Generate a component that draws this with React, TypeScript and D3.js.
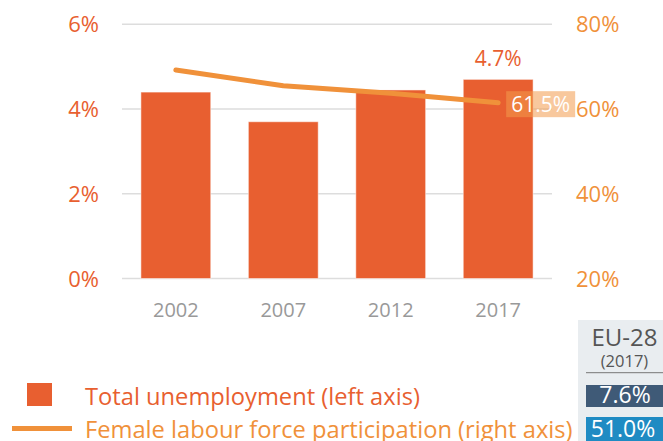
import React from "react";
import * as d3 from "d3";

const years = ["2002", "2007", "2012", "2017"];
const unemployment = [4.4, 3.7, 4.45, 4.7];
const femaleParticipation = [69.2, 65.5, 63.7, 61.5];
const leftTicks = [0, 2, 4, 6];
const rightTicks = [20, 40, 60, 80];
const euLabel = "EU-28";
const euYear = "(2017)";
const euUnemployment = "7.6%";
const euFemale = "51.0%";

const W = 663;
const H = 441;
const FONT = "'Open Sans', 'Noto Sans', sans-serif";
const BAR = "#E85F30";
const LINE = "#F0913A";

export default function App() {
  const x = d3
    .scaleBand<string>()
    .domain(years)
    .range([122, 552])
    .paddingInner(0.35)
    .paddingOuter(0.176);
  const yL = d3.scaleLinear().domain([0, 6]).range([278.5, 24.3]);
  const yR = d3.scaleLinear().domain([20, 80]).range([278.5, 24.3]);
  const cx = (d: string) => (x(d) as number) + x.bandwidth() / 2;

  const line = d3
    .line<number>()
    .x((_, i) => cx(years[i]))
    .y((v) => yR(v));

  const lastI = years.length - 1;
  const lastX = cx(years[lastI]);
  const lastY = yR(femaleParticipation[lastI]);

  return (
    <svg
      width={W}
      height={H}
      style={{ position: "absolute", left: 0, top: 0, fontFamily: FONT }}
    >
      <rect x={0} y={0} width={W} height={H} fill="#fff" />
      {leftTicks.map((t) => (
        <g key={"g" + t}>
          <line
            x1={122}
            x2={552}
            y1={yL(t)}
            y2={yL(t)}
            stroke="#DDDDDD"
            strokeWidth={1.5}
          />
          <text
            x={99}
            y={yL(t) + 8}
            textAnchor="end"
            fontSize={22}
            fill={BAR}
          >
            {t}%
          </text>
        </g>
      ))}
      {rightTicks.map((t) => (
        <text key={"r" + t} x={576} y={yR(t) + 8} fontSize={22} fill={LINE}>
          {t}%
        </text>
      ))}
      {years.map((yr, i) => (
        <rect
          key={yr}
          x={x(yr)}
          y={yL(unemployment[i])}
          width={x.bandwidth()}
          height={yL(0) - yL(unemployment[i])}
          fill={BAR}
          stroke="rgba(255,255,255,0.5)"
          strokeWidth={1}
        />
      ))}
      {years.map((yr) => (
        <text
          key={"x" + yr}
          x={cx(yr)}
          y={317}
          textAnchor="middle"
          fontSize={20}
          fill="#999999"
        >
          {yr}
        </text>
      ))}
      <text
        x={cx(years[lastI])}
        y={yL(unemployment[lastI]) - 13}
        textAnchor="middle"
        fontSize={21}
        fill={BAR}
      >
        {unemployment[lastI].toFixed(1)}%
      </text>
      <path
        d={line(femaleParticipation) || ""}
        fill="none"
        stroke={LINE}
        strokeWidth={5}
        strokeLinecap="round"
        strokeLinejoin="round"
      />
      <rect
        x={lastX + 8}
        y={lastY - 11.5}
        width={69}
        height={26}
        fill="#F39A4C"
        opacity={0.55}
      />
      <text
        x={lastX + 42.5}
        y={lastY + 9.5}
        textAnchor="middle"
        fontSize={21}
        fill="#fff"
      >
        {femaleParticipation[lastI].toFixed(1)}%
      </text>

      {/* legend */}
      <rect x={27} y={383} width={25} height={23} fill={BAR} />
      <text x={85} y={405} fontSize={23.7} fill={BAR}>
        Total unemployment (left axis)
      </text>
      <line x1={12} x2={72} y1={428.5} y2={428.5} stroke={LINE} strokeWidth={5} />
      <text x={85} y={438} fontSize={23.7} fill={LINE}>
        Female labour force participation (right axis)
      </text>

      {/* EU box */}
      <rect x={578} y={320} width={85} height={121} fill="#E9EDF0" />
      <text x={624.5} y={346} textAnchor="middle" fontSize={24} fill="#555">
        {euLabel}
      </text>
      <text x={624.5} y={367} textAnchor="middle" fontSize={16.5} fill="#555">
        {euYear}
      </text>
      <line x1={586} x2={663} y1={372.7} y2={372.7} stroke="#777" strokeWidth={1} />
      <rect x={586} y={385} width={77} height={22} fill="#3F5A77" />
      <text x={625} y={403} textAnchor="middle" fontSize={23} fill="#fff">
        {euUnemployment}
      </text>
      <rect x={586} y={417} width={77} height={24} fill="#1F8BC3" />
      <text x={623} y={437} textAnchor="middle" fontSize={23} fill="#fff">
        {euFemale}
      </text>
    </svg>
  );
}
